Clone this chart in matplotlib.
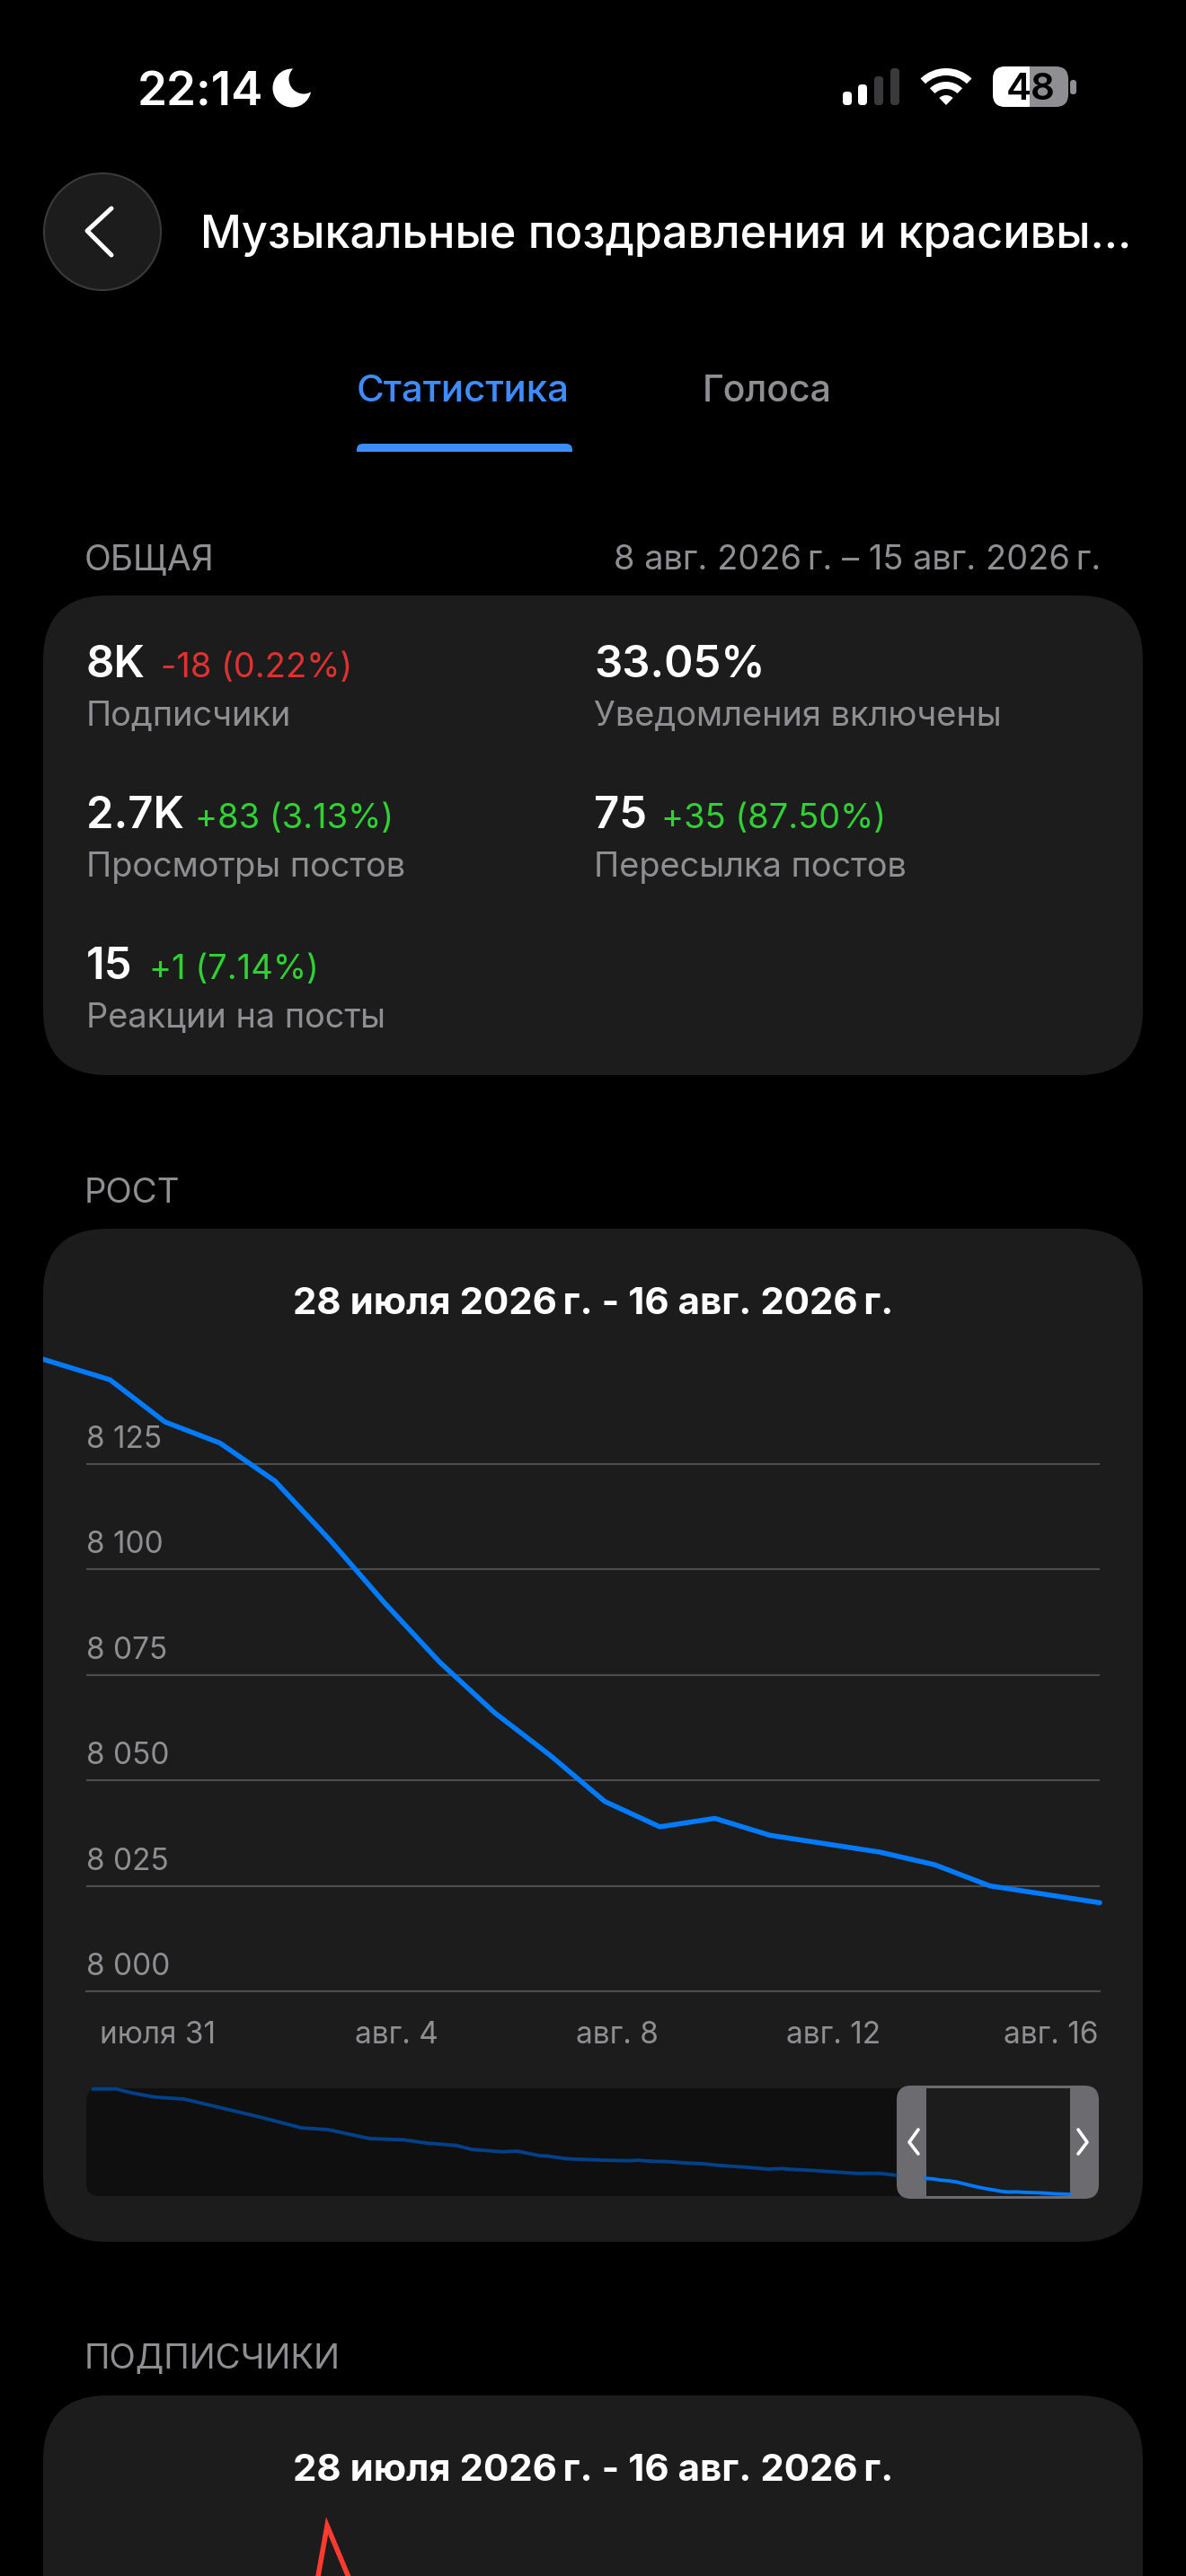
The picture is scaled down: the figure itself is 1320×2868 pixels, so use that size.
import matplotlib
matplotlib.use("Agg")
import matplotlib.pyplot as plt
from matplotlib.patches import Circle, FancyBboxPatch, Rectangle, Wedge

W, H = 1320, 2868
plt.rcParams['font.family'] = ['Inter', 'DejaVu Sans']

BG = '#000000'
CARD = '#1c1c1c'
GREY = '#8e8e93'
BLUE = '#007aff'
TAB_BLUE = '#3f8cff'
DARK_BLUE = '#00418a'
RED = '#e03131'
GREEN = '#30d133'
LINE_RED = '#ff3b30'
GRID = '#4d4d4d'

# growth chart, one value a day, day 0 is 28 July, day -1 runs off the card
growth_days = list(range(-1, 20))
growth_values = [8153, 8149, 8145, 8135, 8130, 8121, 8107, 8092, 8078, 8066, 8056,
                 8045, 8039, 8041, 8037, 8035, 8033, 8030, 8025, 8023, 8021]
y_ticks = [8000, 8025, 8050, 8075, 8100, 8125]
y_labels = ['8 000', '8 025', '8 050', '8 075', '8 100', '8 125']
x_tick_pos = [1.87, 6.22, 10.23, 14.16, 18.11]
x_labels = ['июля 31', 'авг. 4', 'авг. 8', 'авг. 12', 'авг. 16']

# overview strip, days counted from the start of the history
mini_days = [0, 3, 5, 8, 12, 17, 22, 27.5, 31, 36.5, 41, 44, 48, 50, 54, 56,
             59, 60, 62.5, 67.5, 70.6, 72, 73.4, 76, 78, 80.6, 82.5, 86, 89.3,
             91, 92.5, 95.6, 98.4, 101, 104, 106]
mini_values = [8868, 8868, 8837, 8803, 8786, 8714, 8642, 8555, 8541, 8469, 8459,
               8433, 8413, 8382, 8363, 8368, 8331, 8329, 8307, 8295, 8291, 8295,
               8288, 8283, 8274, 8267, 8254, 8240, 8223, 8228, 8221, 8211, 8199,
               8189, 8189, 8175]
window_start = 110

# subscribers chart, only the top of the peak is on screen
peak_days = [4, 5, 6]
peak_values = [0, 14, 8]

# overview numbers: x, big value baseline, value, delta, delta x, delta colour, label
stats = [
    (96, 754, '8K', '-18 (0.22%)', 179, RED, 'Подписчики'),
    (661, 754, '33.05%', '', 0, GREEN, 'Уведомления включены'),
    (96, 922, '2.7K', '+83 (3.13%)', 217, GREEN, 'Просмотры постов'),
    (661, 922, '75', '+35 (87.50%)', 736, GREEN, 'Пересылка постов'),
    (96, 1090, '15', '+1 (7.14%)', 166, GREEN, 'Реакции на посты'),
]


def px_axes(fig, x0, y0, x1, y1):
    return fig.add_axes([x0 / W, 1 - y1 / H, (x1 - x0) / W, (y1 - y0) / H])


def rounded(ax, x0, y0, x1, y1, r, color, **kw):
    p = FancyBboxPatch((x0, y0), x1 - x0, y1 - y0,
                       boxstyle=f"round,pad=0,rounding_size={r}",
                       fc=color, ec='none', **kw)
    ax.add_patch(p)
    return p


def label(ax, x, y, s, px, color=GREY, weight='normal', ha='left'):
    ax.text(x, y, s, fontsize=px * 0.72, color=color, fontweight=weight,
            ha=ha, va='baseline')


fig = plt.figure(figsize=(W / 100, H / 100), dpi=100, facecolor=BG)
ui = px_axes(fig, 0, 0, W, H)
ui.set_xlim(0, W)
ui.set_ylim(H, 0)
ui.axis('off')

# status bar
label(ui, 153, 117, '22:14', 53, 'white', 'semibold')
ui.add_patch(Circle((325, 98), 21.5, fc='white', ec='none'))
ui.add_patch(Circle((338, 88), 16.5, fc=BG, ec='none'))
for x, top, col in [(943, 102, 'white'), (960, 94, 'white'), (978, 85, '#3a3a3c'), (996, 76, '#3a3a3c')]:
    rounded(ui, x - 5, top, x + 5, 117, 4, col)
for r, wd in [(41, 8), (26, 8), (11, 11)]:
    ui.add_patch(Wedge((1053, 117), r, 226, 314, width=wd, fc='white', ec='none'))
rounded(ui, 1105, 74, 1189, 119, 14, '#8e8e93')
rounded(ui, 1105, 74, 1189, 119, 14, 'white').set_clip_path(Rectangle((1100, 70), 46, 55, transform=ui.transData))
rounded(ui, 1191, 89, 1198, 105, 3, '#8e8e93')
label(ui, 1147, 111, '48', 42, 'black', 'semibold', 'center')

# header
ui.add_patch(Circle((114, 258), 65, fc=CARD, ec='#3a3a3c', lw=1.5))
ui.plot([124, 97, 124], [232, 257, 284], color='white', lw=3.6, solid_capstyle='round', solid_joinstyle='round')
label(ui, 223, 276, 'Музыкальные поздравления и красивы...', 50.4, 'white', 'medium')
label(ui, 397, 447, 'Статистика', 42, TAB_BLUE, 'medium')
label(ui, 782, 447, 'Голоса', 41, GREY, 'medium')
rounded(ui, 397, 494, 637, 510, 7, TAB_BLUE)
ui.add_patch(Rectangle((390, 503), 255, 10, fc=BG, ec='none'))

# overview card
label(ui, 94, 634, 'ОБЩАЯ', 39)
label(ui, 1225, 634, '8 авг. 2026\u2009г. – 15 авг. 2026\u2009г.', 38, ha='right')
rounded(ui, 48, 663, 1272, 1197, 72, CARD)
for x, y, big, delta, dx, col, name in stats:
    label(ui, x, y, big, 49, 'white', 'semibold')
    if delta:
        label(ui, dx, y, delta, 38, col)
    label(ui, x, y + 54, name, 38)

# growth card
label(ui, 94, 1339, 'РОСТ', 38.4)
rounded(ui, 48, 1368, 1272, 2496, 72, CARD)
label(ui, 660, 1463, '28 июля 2026\u2009г. - 16 авг. 2026\u2009г.', 42, 'white', 'bold', 'center')

# subscribers card
label(ui, 94, 2637, 'ПОДПИСЧИКИ', 38.4)
rounded(ui, 48, 2667, 1272, 2960, 72, CARD)
label(ui, 660, 2762, '28 июля 2026\u2009г. - 16 авг. 2026\u2009г.', 42, 'white', 'bold', 'center')

# main growth chart
ax = px_axes(fig, 96, 1500, 1224, 2217)
ax.patch.set_alpha(0)
ax.set_xlim(0.569, 19)
ax.set_ylim(8000, 8152.7)
line, = ax.plot(growth_days, growth_values, color=BLUE, lw=4.0, zorder=3,
                solid_capstyle='round', solid_joinstyle='round')
line.set_clip_path(Rectangle((48, 1368), 1224, 1128, transform=ui.transData))
ax.set_yticks(y_ticks)
ax.set_yticklabels([])
ax.grid(axis='y', color=GRID, lw=1.5)
ax.set_xticks(x_tick_pos)
ax.set_xticklabels(x_labels, fontsize=24, color=GREY)
ax.tick_params(length=0)
ax.tick_params(axis='x', pad=24)
for side in ['top', 'left', 'right']:
    ax.spines[side].set_visible(False)
ax.spines['bottom'].set_color(GRID)
ax.spines['bottom'].set_linewidth(1.5)
for v, txt in zip(y_ticks, y_labels):
    ax.annotate(txt, xy=(0, v), xycoords=ax.get_yaxis_transform(), xytext=(0, 13),
                textcoords='offset points', fontsize=24, color=GREY, va='baseline')

# overview strip
rounded(ui, 96, 2325, 1223, 2445, 14, '#0f0f0f')
rounded(ui, 998, 2322, 1223, 2448, 16, '#6c6c70')
ui.add_patch(Rectangle((1031, 2325), 160, 120, fc=CARD, ec='none'))
ui.plot([1022, 1012, 1022], [2371, 2385, 2398], color='white', lw=2.6, solid_capstyle='round')
ui.plot([1200, 1210, 1200], [2371, 2385, 2398], color='white', lw=2.6, solid_capstyle='round')

mini = px_axes(fig, 104, 2325, 1191, 2445)
mini.patch.set_alpha(0)
mini.axis('off')
mini.set_xlim(0, 129.1)
mini.set_ylim(8021 - 14, 8868 + 5)
mini.plot(mini_days, mini_values, color=DARK_BLUE, lw=2.8, clip_on=False)
mini.plot([window_start + d for d in growth_days[1:]], growth_values[1:], color=BLUE, lw=2.8, clip_on=False)

# top of the subscribers chart
sub = px_axes(fig, 96, 2790, 1224, 2868)
sub.patch.set_alpha(0)
sub.axis('off')
sub.set_xlim(0.62, 19.05)
sub.set_ylim(11.71, 14.90)
sub.plot(peak_days, peak_values, color=LINE_RED, lw=4.0, clip_on=False, solid_joinstyle='miter')

fig.savefig('out.png', dpi=100, facecolor=BG)
